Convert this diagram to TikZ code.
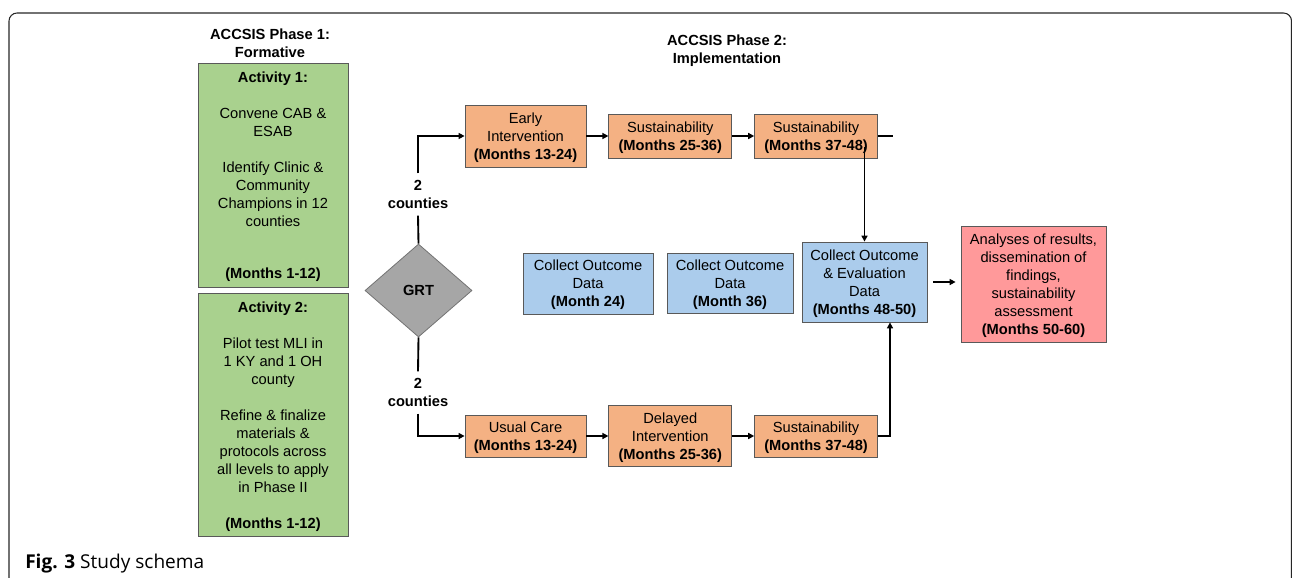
\documentclass[tikz,border=0pt]{standalone}
\usepackage{fontspec}
\setmainfont{Liberation Sans}
\newfontfamily\captionfont{Open Sans}
\usepackage{tikz}
\usetikzlibrary{arrows.meta, positioning, shapes.geometric, calc}
\definecolor{phasegreen}{HTML}{A9D18E}
\definecolor{stageorange}{HTML}{F4B183}
\definecolor{outcomeblue}{HTML}{ABCCEC}
\definecolor{resultred}{HTML}{FF999A}
\definecolor{grtgray}{HTML}{A6A6A6}

\begin{document}
\begin{tikzpicture}[x=0.75pt,y=-0.75pt,node distance=16.5pt,>={Triangle[length=4.5pt,width=4.5pt]},
        font=\fontsize{11}{13.5}\selectfont,
        box/.style={draw=black!65,line width=0.6pt,align=center,inner sep=1.5pt,text depth=-3.6pt},
        activity/.style={box,fill=phasegreen,minimum width=112.5pt},
        stage/.style={box,fill=stageorange,minimum width=92.25pt,minimum height=33pt},
        outcome/.style={box,fill=outcomeblue},
        results/.style={box,fill=resultred},
        decision/.style={diamond,draw=black!55,fill=grtgray,line width=0.6pt,minimum width=80.25pt,minimum height=69.75pt,inner sep=0pt,font=\fontsize{11}{13.5}\selectfont\bfseries},
        heading/.style={align=center,font=\fontsize{11}{13.5}\selectfont\bfseries},
        split/.style={align=center,inner sep=5pt,font=\fontsize{11}{13.5}\selectfont\bfseries},
        flow/.style={line width=1.4pt}]

      \useasboundingbox (0,0) rectangle (1292,578);
      \begin{scope}
        \clip (0,0) rectangle (1292,578);
        \draw[line width=0.8pt,draw=black!85,rounded corners=6pt] (9,13) rectangle (1291.5,640);
      \end{scope}

      \node[heading] (phase_1) at (270,43.5) {ACCSIS Phase 1:\\ Formative};
      \node[heading] (phase_2) at (727,51) {ACCSIS Phase 2:\\ Implementation};

      \node[activity,minimum height=168pt] (act_1) at (273,175) {\textbf{Activity 1:}\\[13.5pt] Convene CAB \&\\ ESAB\\[13.5pt] Identify Clinic \&\\ Community\\ Champions in 12\\ counties\\[25.5pt] \textbf{(Months 1-12)}};
      \node[activity,minimum height=182.25pt] (act_2) [below=4.5pt of act_1] {\textbf{Activity 2:}\\[13.5pt] Pilot test MLI in\\ 1 KY and 1 OH\\ county\\[13.5pt] Refine \& finalize\\ materials \&\\ protocols across\\ all levels to apply\\ in Phase II\\[13.5pt] \textbf{(Months 1-12)}};

      \node[decision] (grt) at (418.5,290.5) {GRT};
      \node[split] (split_up) at (418,194.5) {2\\ counties};
      \node[split] (split_down) at (418,392.5) {2\\ counties};

      \node[stage,minimum width=90.75pt,minimum height=46.5pt] (early_int) at (525.5,136) {Early\\ Intervention\\ \textbf{(Months 13-24)}};
      \node[stage] (sus_2) [right=of early_int] {Sustainability\\ \textbf{(Months 25-36)}};
      \node[stage] (sus_3) [right=of sus_2] {Sustainability\\ \textbf{(Months 37-48)}};

      \node[stage,minimum width=90.75pt,minimum height=31.5pt] (usual_care) at (525.5,436) {Usual Care\\ \textbf{(Months 13-24)}};
      \node[stage,minimum height=45.75pt] (delayed_int) [right=of usual_care] {Delayed\\ Intervention\\ \textbf{(Months 25-36)}};
      \node[stage,minimum height=31.5pt] (sus_low) [right=of delayed_int] {Sustainability\\ \textbf{(Months 37-48)}};

      \node[outcome,minimum width=97.5pt,minimum height=45.75pt] (outcome_1) at (588,283.5) {Collect Outcome\\ Data\\ \textbf{(Month 24)}};
      \node[outcome,minimum width=94.5pt,minimum height=45pt] (outcome_2) at (730,283) {Collect Outcome\\ Data\\ \textbf{(Month 36)}};
      \node[outcome,minimum width=93.75pt,minimum height=60pt] (outcome_3) at (864.5,282) {Collect Outcome\\ \& Evaluation\\ Data\\ \textbf{(Months 48-50)}};
      \node[results,minimum width=108.75pt,minimum height=87pt] (analyses) at (1033.5,284) {Analyses of results,\\ dissemination of\\ findings,\\ sustainability\\ assessment\\ \textbf{(Months 50-60)}};

      \node[anchor=west,inner sep=0pt,font=\captionfont\fontsize{14.3}{16}\selectfont] (caption) at (25,564) {\textbf{Fig. 3} Study schema};

      \coordinate[right=11.25pt of sus_3] (stub_end);
      \coordinate (drop) at ($(sus_3.south -| outcome_3.north)+(0,-11)$);
      \coordinate (rise) at ($(outcome_3.south)+(25.5,0)$);

      \draw[flow] (grt.north) -- (split_up.south);
      \draw[flow,->] (split_up.north) |- (early_int.west);
      \draw[flow] (grt.south) -- (split_down.north);
      \draw[flow,->] (split_down.south) |- (usual_care.west);
      \draw[flow,->] (early_int) -- (sus_2);
      \draw[flow,->] (sus_2) -- (sus_3);
      \draw[flow] (sus_3) -- (stub_end);
      \draw[flow,->] (drop) -- (outcome_3.north);
      \draw[flow,->] (usual_care) -- (delayed_int);
      \draw[flow,->] (delayed_int) -- (sus_low);
      \draw[flow,->] (sus_low.east) -| (rise);
      \draw[flow,->,shorten <=4.5pt,shorten >=3.75pt] (outcome_3.east) -- (outcome_3.east -| analyses.west);
    \end{tikzpicture}
\end{document}
